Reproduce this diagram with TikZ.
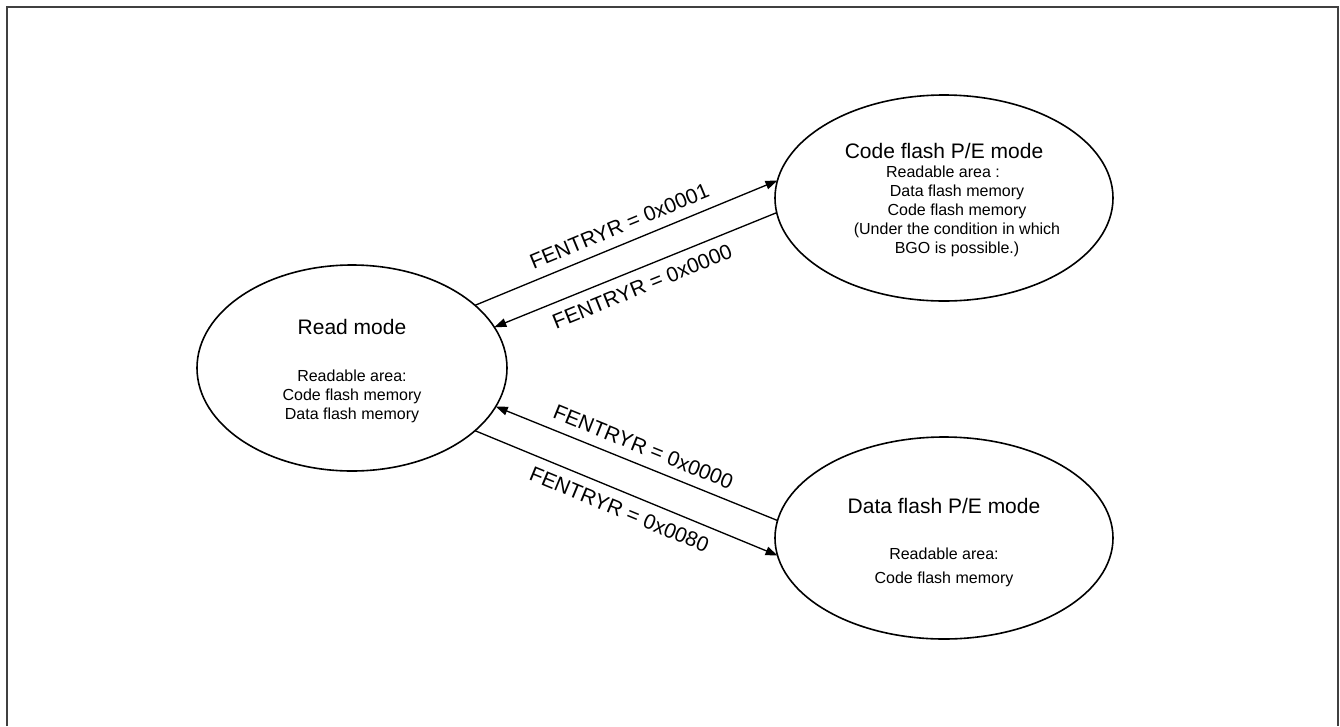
\documentclass[tikz,border=0pt]{standalone}
\usepackage{fontspec}
\setmainfont{Liberation Sans}
\usetikzlibrary{shapes.geometric,arrows.meta}

\begin{document}
\begin{tikzpicture}[
  x=0.75pt, y=-0.75pt,
  every node/.style={align=center},
  mode/.style={draw, ellipse, line width=1.2pt, inner sep=0pt, outer sep=0pt},
  title/.style={font=\fontsize{15.75}{18}\selectfont},
  body/.style={font=\fontsize{12}{14.25}\selectfont},
  cond/.style={font=\fontsize{15.75}{18}\selectfont, sloped, midway},
  arrow/.style={-{Triangle[length=9pt,width=6.5pt]}, line width=1pt},
]
  \useasboundingbox (0,0) rectangle (1340,726);
  \draw[black!75, line width=1.5pt] (6.5,726) -- (6.5,6.5) -- (1338,6.5) -- (1338,726);

  \node[mode, minimum width=232.5pt, minimum height=154.5pt] (read) at (352,368) {};
  \node[mode, minimum width=253.5pt, minimum height=154.5pt] (code) at (944,198) {};
  \node[mode, minimum width=253.5pt, minimum height=151.5pt] (data) at (944,538) {};

  \node[title, anchor=base] (readtitle) at (352,334) {Read mode};
  \node[body] (readbody) at (352,396) {Readable area:\\Code flash memory\\Data flash memory};

  \node[title, anchor=base] (codetitle) at (944,158) {Code flash P/E mode};
  \node[body] (codebody) at (957,211.5)
    {Readable area :\hspace*{21pt}\\Data flash memory\\Code flash memory\\(Under the condition in which\\BGO is possible.)};

  \node[title, anchor=base] (datatitle) at (944,513) {Data flash P/E mode};
  \node[body, font=\fontsize{12}{18}\selectfont] (databody) at (944,567) {Readable area:\\Code flash memory};

  \draw[arrow] (read.27) -- node[cond, above=4pt] (toCode) {FENTRYR = 0x0001} (code.174);
  \draw[arrow] (code.185) -- node[cond, below=4pt] (fromCode) {FENTRYR = 0x0000} (read.16);
  \draw[arrow] (data.174) -- node[cond, above=4pt] (fromData) {FENTRYR = 0x0000} (read.-15);
  \draw[arrow] (read.-27) -- node[cond, below=4pt] (toData) {FENTRYR = 0x0080} (data.186);
\end{tikzpicture}
\end{document}
